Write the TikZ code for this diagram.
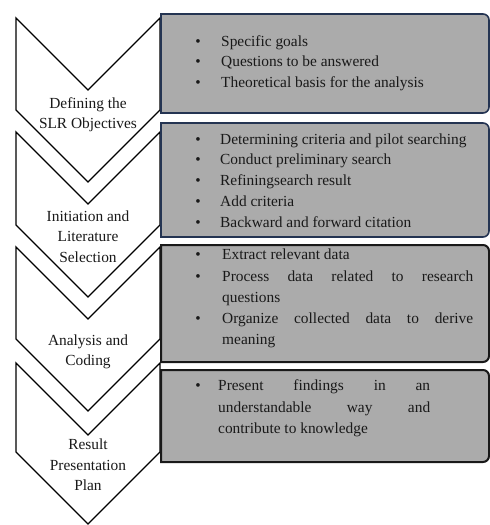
\documentclass[tikz,border=0pt]{standalone}
\usepackage{fontspec}
\setmainfont{Liberation Serif}
\definecolor{boxgray}{RGB}{171,171,171}
\definecolor{navyb}{RGB}{36,52,82}
\definecolor{txtc}{RGB}{25,25,25}
\newcommand\myfs{\fontsize{15.4}{20}\selectfont}
\newcommand\mychev[2]{%
  \draw[chev] (16,#1) -- (88,{#1+72}) -- (160,#1) -- (160,#2) -- (88,{#2+72}) -- (16,#2) -- cycle;}
\newcommand\mybox[3]{%
  \draw[#1] (161,#2) -- (483,#2) arc[start angle=-90,end angle=0,radius=6]
    -- (489,{#3-6}) arc[start angle=0,end angle=90,radius=6] -- (161,#3) -- cycle;}
\begin{document}
\begin{tikzpicture}[x=1pt,y=-1pt,
  chev/.style={draw=black, line width=1.4pt, fill=white, line join=miter},
  boxA/.style={fill=boxgray, draw=navyb, line width=1.6pt},
  boxB/.style={fill=boxgray, draw=black!90, line width=2pt},
  txt/.style={anchor=base west, inner sep=0pt, font=\myfs, text=txtc},
  lbl/.style={anchor=base, inner sep=0pt, font=\myfs, text=txtc},
  bul/.style={anchor=base, inner sep=0pt, font=\myfs, text=txtc}]
\useasboundingbox (0,0) rectangle (490,525);
% chevrons
\mychev{18}{110}
\mychev{132}{225}
\mychev{247}{339}
\mychev{363}{452}
% boxes
\mybox{boxA}{14}{113}
\mybox{boxA}{123}{237}
\mybox{boxB}{245}{362}
\mybox{boxB}{370}{462}
% chevron labels
\node[lbl] (l1a) at (88,108) {Defining the};
\node[lbl] (l1b) at (88,128) {SLR Objectives};
\node[lbl] (l2a) at (88,221) {Initiation and};
\node[lbl] (l2b) at (88,241) {Literature};
\node[lbl] (l2c) at (88,262) {Selection};
\node[lbl] (l3a) at (88,345) {Analysis and};
\node[lbl] (l3b) at (88,365) {Coding};
\node[lbl] (l4a) at (88,449) {Result};
\node[lbl] (l4b) at (88,470) {Presentation};
\node[lbl] (l4c) at (88,490) {Plan};
% box 1
\node[bul] (b11) at (198,46) {\textbullet};
\node[bul] (b12) at (198,66) {\textbullet};
\node[bul] (b13) at (198,87) {\textbullet};
\node[txt] (t11) at (221,46) {Specific goals};
\node[txt] (t12) at (221,66) {Questions to be answered};
\node[txt] (t13) at (221,87) {Theoretical basis for the analysis};
% box 2
\node[bul] (b21) at (198,144) {\textbullet};
\node[bul] (b22) at (198,164) {\textbullet};
\node[bul] (b23) at (198,185) {\textbullet};
\node[bul] (b24) at (198,206) {\textbullet};
\node[bul] (b25) at (198,227) {\textbullet};
\node[txt] (t21) at (220,144) {Determining criteria and pilot searching};
\node[txt] (t22) at (220,164) {Conduct preliminary search};
\node[txt] (t23) at (220,185) {Refiningsearch result};
\node[txt] (t24) at (220,206) {Add criteria};
\node[txt] (t25) at (220,227) {Backward and forward citation};
% box 3
\node[bul] (b31) at (198,259) {\textbullet};
\node[bul] (b32) at (198,281) {\textbullet};
\node[bul] (b33) at (198,323) {\textbullet};
\node[txt] (t31) at (222,259) {Extract relevant data};
\node[txt] (t32) at (222,281) {\makebox[251pt][s]{Process data related to research}};
\node[txt] (t33) at (222,302) {questions};
\node[txt] (t34) at (222,323) {\makebox[251pt][s]{Organize collected data to derive}};
\node[txt] (t35) at (222,344) {meaning};
% box 4
\node[bul] (b41) at (198,390) {\textbullet};
\node[txt] (t41) at (218,390) {\makebox[212pt][s]{Present findings in an}};
\node[txt] (t42) at (218,412) {\makebox[212pt][s]{understandable way and}};
\node[txt] (t43) at (218,433) {contribute to knowledge};
\end{tikzpicture}
\end{document}
